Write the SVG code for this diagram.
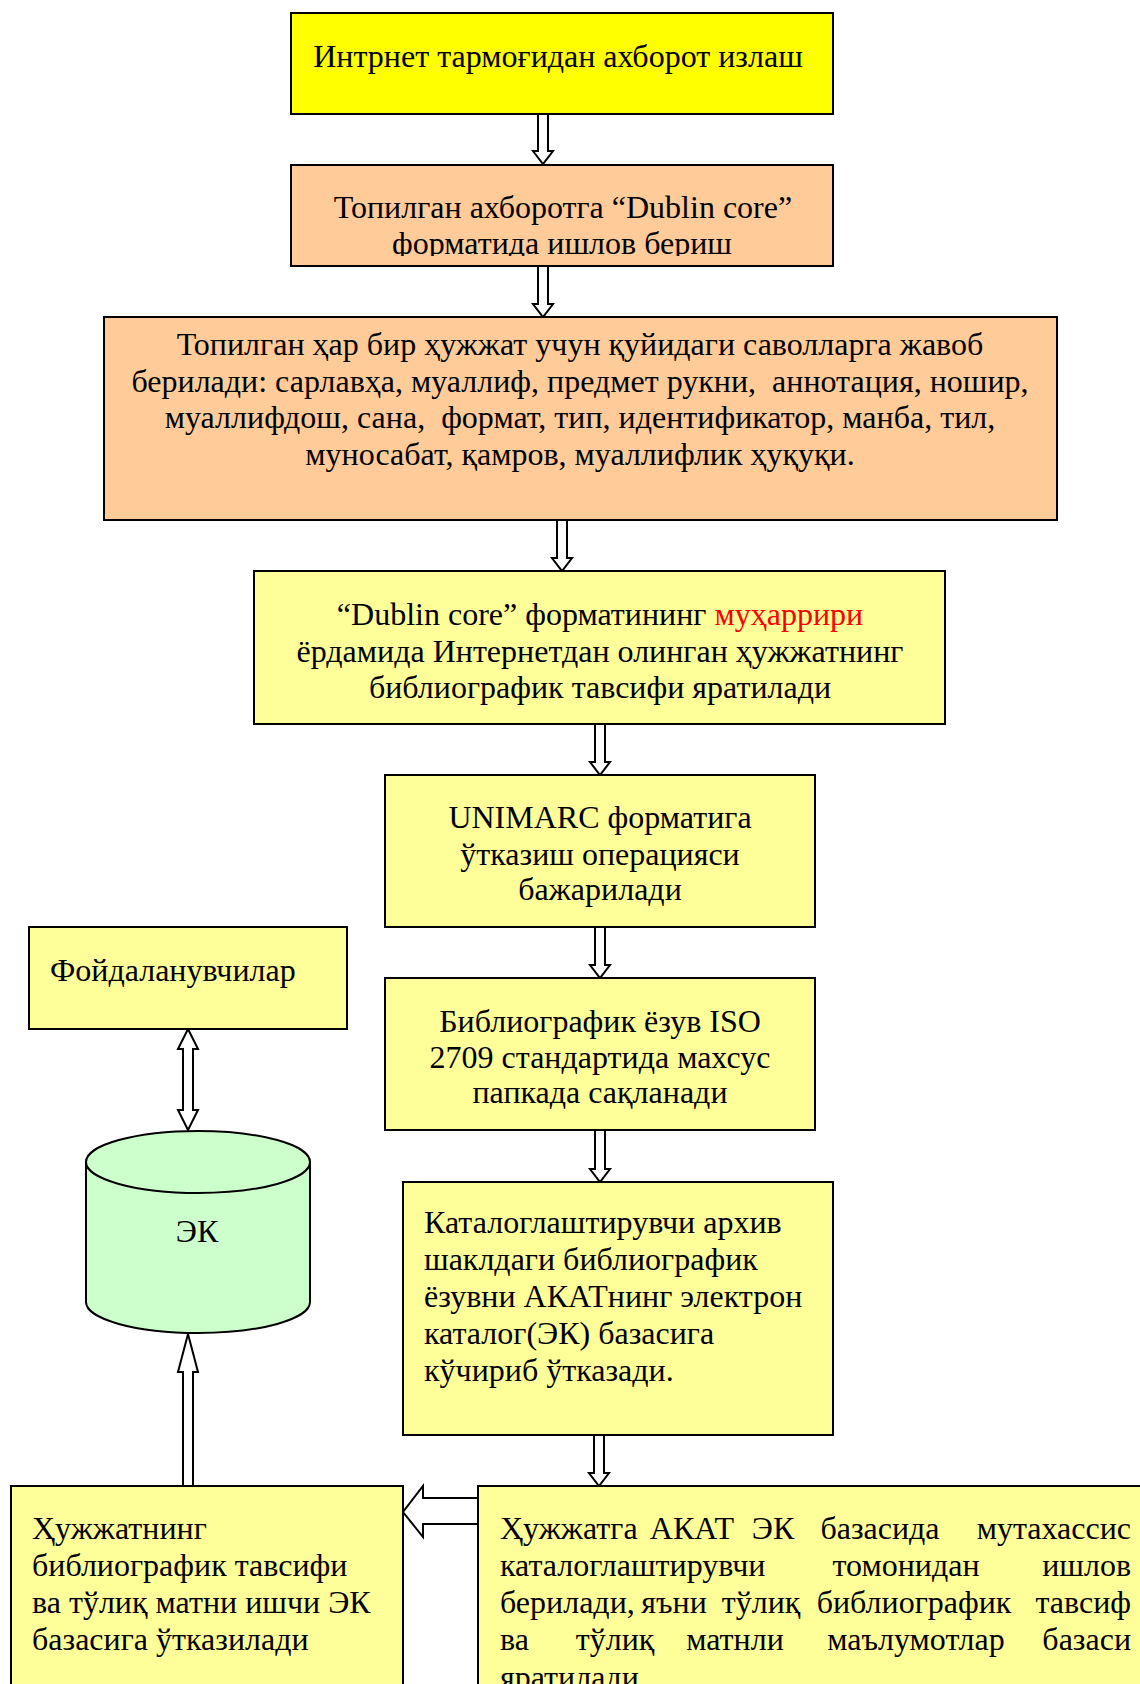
<svg xmlns="http://www.w3.org/2000/svg" width="1140" height="1684" viewBox="0 0 1140 1684">
<style>
.box{stroke:#000;stroke-width:2}
.y1{fill:#FFFF00}
.pe{fill:#FFCC99}
.ly{fill:#FFFF99}
.gr{fill:#CCFFCC}
text{font-family:"Liberation Serif","Times New Roman",serif;font-size:32px;fill:#000;white-space:pre}
.c{text-anchor:middle}
.e{text-anchor:end}
.arr{fill:#fff;stroke:#000;stroke-width:2;stroke-linejoin:miter}
</style>
<defs>
<clipPath id="clip2"><rect x="291" y="165" width="542" height="91"/></clipPath>
</defs>
<rect x="0" y="0" width="1140" height="1684" fill="#fff"/>

<g id="connectors">
<polygon class="arr" points="538,114 538,151 533,151 543,164 553,151 548,151 548,114"/>
<polygon class="arr" points="538,266 538,304 533,304 543,317 553,304 548,304 548,266"/>
<polygon class="arr" points="557,520 557,558 552,558 562,571 572,558 567,558 567,520"/>
<polygon class="arr" points="595,724 595,762 590,762 600,775 610,762 605,762 605,724"/>
<polygon class="arr" points="595,927 595,965 590,965 600,978 610,965 605,965 605,927"/>
<polygon class="arr" points="595,1130 595,1169 590,1169 600,1182 610,1169 605,1169 605,1130"/>
<polygon class="arr" points="594,1435 594,1473 589,1473 599,1486 609,1473 604,1473 604,1435"/>
<polygon class="arr" points="188,1029 198,1049 193,1049 193,1110 198,1110 188,1130 178,1110 183,1110 183,1049 178,1049"/>
<polygon class="arr" points="183,1486 183,1372 178,1372 188,1334 198,1372 193,1372 193,1486"/>
<polygon class="arr" points="478,1498 423,1498 423,1486 403,1512 423,1537 423,1524 478,1524"/>
</g>

<g id="n1">
<rect class="box y1" x="291" y="13" width="542" height="101"/>
<text class="c" x="558" y="67">Интрнет тармоғидан ахборот излаш</text>
</g>

<g id="n2">
<rect class="box pe" x="291" y="165" width="542" height="101"/>
<g clip-path="url(#clip2)">
<text class="c" x="563" y="218">Топилган ахборотга “Dublin core”</text>
<text class="c" x="562" y="254">форматида ишлов бериш</text>
</g>
</g>

<g id="n3">
<rect class="box pe" x="104" y="317" width="953" height="203"/>
<text class="c" x="580" y="355">Топилган ҳар бир ҳужжат учун қуйидаги саволларга жавоб</text>
<text class="c" x="580" y="392">берилади: сарлавҳа, муаллиф, предмет рукни,  аннотация, ношир,</text>
<text class="c" x="580" y="428">муаллифдош, сана,  формат, тип, идентификатор, манба, тил,</text>
<text class="c" x="580" y="465">муносабат, қамров, муаллифлик ҳуқуқи.</text>
</g>

<g id="n4">
<rect class="box ly" x="254" y="571" width="691" height="153"/>
<text class="c" x="600" y="625">“Dublin core” форматининг <tspan fill="#FF0000">муҳаррири</tspan></text>
<text class="c" x="600" y="662">ёрдамида Интернетдан олинган ҳужжатнинг</text>
<text class="c" x="600" y="698">библиографик тавсифи яратилади</text>
</g>

<g id="n5">
<rect class="box ly" x="385" y="775" width="430" height="152"/>
<text class="c" x="600" y="828">UNIMARC форматига</text>
<text class="c" x="600" y="865">ўтказиш операцияси</text>
<text class="c" x="600" y="900">бажарилади</text>
</g>

<g id="n6">
<rect class="box ly" x="385" y="978" width="430" height="152"/>
<text class="c" x="600" y="1032">Библиографик ёзув ISO</text>
<text class="c" x="600" y="1068">2709 стандартида махсус</text>
<text class="c" x="600" y="1103">папкада сақланади</text>
</g>

<g id="n7">
<rect class="box ly" x="403" y="1182" width="430" height="253"/>
<text x="424" y="1233">Каталоглаштирувчи архив</text>
<text x="424" y="1270">шаклдаги библиографик</text>
<text x="424" y="1307">ёзувни АКАТнинг электрон</text>
<text x="424" y="1344">каталог(ЭК) базасига</text>
<text x="424" y="1381">кўчириб ўтказади.</text>
</g>

<g id="n_users">
<rect class="box ly" x="29" y="927" width="318" height="102"/>
<text x="50" y="981">Фойдаланувчилар</text>
</g>

<g id="n_ek">
<path class="box gr" d="M86,1162 L86,1302 A112,31 0 0 0 310,1302 L310,1162 Z"/>
<ellipse class="box gr" cx="198" cy="1162" rx="112" ry="31"/>
<text class="c" x="197" y="1242">ЭК</text>
</g>

<g id="n9">
<rect class="box ly" x="11" y="1486" width="392" height="260"/>
<text x="32" y="1539">Ҳужжатнинг</text>
<text x="32" y="1576">библиографик тавсифи</text>
<text x="32" y="1613">ва тўлиқ матни ишчи ЭК</text>
<text x="32" y="1650">базасига ўтказилади</text>
</g>

<g id="n8">
<rect class="box ly" x="478" y="1486" width="700" height="260"/>
<text x="500" y="1539">Ҳужжатга</text>
<text class="c" y="1539"><tspan x="692">АКАТ</tspan><tspan x="773">ЭК</tspan><tspan x="880">базасида</tspan></text>
<text class="e" x="1131" y="1539">мутахассис</text>
<text x="500" y="1576">каталоглаштирувчи</text>
<text class="c" x="906" y="1576">томонидан</text>
<text class="e" x="1131" y="1576">ишлов</text>
<text x="500" y="1613">берилади,</text>
<text class="c" y="1613"><tspan x="674">яъни</tspan><tspan x="761">тўлиқ</tspan><tspan x="914">библиографик</tspan></text>
<text class="e" x="1131" y="1613">тавсиф</text>
<text x="500" y="1650">ва</text>
<text class="c" y="1650"><tspan x="615">тўлиқ</tspan><tspan x="735">матнли</tspan><tspan x="916">маълумотлар</tspan></text>
<text class="e" x="1131" y="1650">базаси</text>
<text x="500" y="1688">яратилади</text>
</g>
</svg>
